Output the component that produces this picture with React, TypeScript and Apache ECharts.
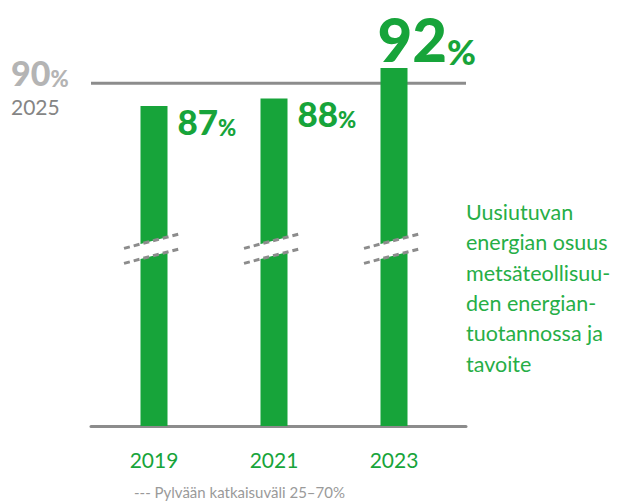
import React, { useEffect, useRef } from 'react';
import * as echarts from 'echarts';

const years = [2019, 2021, 2023];
const shares = [87, 88, 92];
const targetYear = '2025';
const targetShare = 90;
const breakStart = 25;
const breakEnd = 70;
const sideLines = ['Uusiutuvan', 'energian osuus', 'metsäteollisuu-', 'den energian-', 'tuotannossa ja', 'tavoite'];
const noteText = `--- Pylvään katkaisuväli ${breakStart}–${breakEnd}%`;

const X_MIN = 2017.95;
const X_MAX = 2024.2;

const GREEN = '#17a43a';
const SIDE_GREEN = '#26ae46';
const GREY = '#8c8c8c';
const FONT = 'Lato, "Noto Sans", sans-serif';

export default function App() {
  const ref = useRef<HTMLDivElement>(null);
  useEffect(() => {
    document.body.style.margin = '0';
    if (!ref.current) return;
    const chart = echarts.init(ref.current, null, { renderer: 'svg' });

    const smallLabel = {
      show: true,
      position: [37, -3],
      align: 'left',
      verticalAlign: 'top',
      formatter: (p: any) => `{n|${p.value[1]}}{p|%}`,
      rich: {
        n: { fontSize: 35, lineHeight: 35, fontWeight: 900, color: GREEN, fontFamily: FONT, verticalAlign: 'bottom' },
        p: { fontSize: 22, lineHeight: 27, fontWeight: 900, color: GREEN, fontFamily: FONT, verticalAlign: 'bottom' },
      },
    };
    const bigLabel = {
      show: true,
      position: [-3, -59],
      align: 'left',
      verticalAlign: 'top',
      formatter: (p: any) => `{n|${p.value[1]}}{p|%}`,
      rich: {
        n: { fontSize: 60, lineHeight: 60, fontWeight: 900, color: GREEN, fontFamily: FONT, verticalAlign: 'bottom' },
        p: { fontSize: 35, lineHeight: 45, fontWeight: 900, color: GREEN, fontFamily: FONT, verticalAlign: 'bottom' },
      },
    };

    const barData = years.map((y, i) => ({
      value: [y, shares[i]],
      label: i === years.length - 1 ? bigLabel : smallLabel,
    }));

    const option: any = {
      animation: false,
      backgroundColor: '#ffffff',
      title: [
        {
          text: `{n|${targetShare}}{p|%}\n{y|${targetYear}}`,
          left: 11,
          top: 55,
          padding: 0,
          textStyle: {
            rich: {
              n: { fontSize: 34, lineHeight: 34, fontWeight: 900, color: '#b4b4b4', fontFamily: FONT, verticalAlign: 'bottom' },
              p: { fontSize: 22, lineHeight: 27, fontWeight: 900, color: '#b4b4b4', fontFamily: FONT, verticalAlign: 'bottom' },
              y: { fontSize: 21, lineHeight: 34, fontWeight: 'normal', color: '#858585', fontFamily: FONT },
            },
          },
        },
        {
          text: sideLines.join('\n'),
          left: 466,
          top: 197,
          padding: 0,
          textStyle: { fontSize: 21.5, lineHeight: 30.3, fontWeight: 'normal', color: SIDE_GREEN, fontFamily: FONT },
        },
        {
          text: noteText,
          left: 134,
          top: 484,
          padding: 0,
          textStyle: { fontSize: 15, fontWeight: 'normal', color: '#9a9a9a', fontFamily: FONT },
        },
      ],
      grid: { left: 91, right: 159, top: 7, bottom: 75 },
      xAxis: {
        type: 'value',
        min: X_MIN,
        max: X_MAX,
        splitLine: { show: false },
        axisTick: { show: false },
        axisLine: { show: true, onZero: false, lineStyle: { color: GREY, width: 3 } },
        axisLabel: {
          customValues: years,
          formatter: (v: number) => String(v),
          color: GREEN,
          fontSize: 21,
          fontFamily: FONT,
          margin: 23,
        },
      },
      yAxis: {
        type: 'value',
        min: 0,
        max: 100,
        breaks: [{ start: breakStart, end: breakEnd, gap: 0 }],
        breakArea: { show: false },
        axisLine: { show: false },
        axisTick: { show: false },
        axisLabel: { show: false },
        splitLine: { show: false },
      },
      series: [
        {
          type: 'line',
          z: 1,
          symbol: 'none',
          silent: true,
          data: [[X_MIN, targetShare], [X_MAX, targetShare]],
          lineStyle: { color: GREY, width: 3 },
        },
        {
          type: 'bar',
          z: 2,
          barWidth: 27,
          itemStyle: { color: GREEN },
          data: barData,
        },
        {
          type: 'custom',
          z: 3,
          silent: true,
          data: years.map((y) => [y, breakStart]),
          renderItem: (params: any, api: any) => {
            const p = api.coord([api.value(0), api.value(1)]);
            const cx = p[0];
            const cy = p[1];
            const slope = -0.26;
            const mk = (dy: number) => {
              const x1 = cx - 30;
              const x2 = cx + 28;
              const ym = cy + dy;
              return [
                [x1, ym + (x1 - cx) * slope],
                [x2, ym + (x2 - cx) * slope],
              ];
            };
            const a = mk(5);
            const b = mk(20);
            const lineStyle = { stroke: GREY, lineWidth: 3, lineDash: [6, 4], fill: null };
            return {
              type: 'group',
              children: [
                { type: 'polygon', shape: { points: [a[0], a[1], b[1], b[0]] }, style: { fill: '#ffffff' } },
                { type: 'line', shape: { x1: a[0][0], y1: a[0][1], x2: a[1][0], y2: a[1][1] }, style: lineStyle },
                { type: 'line', shape: { x1: b[0][0], y1: b[0][1], x2: b[1][0], y2: b[1][1] }, style: lineStyle },
              ],
            };
          },
        },
      ],
    };
    chart.setOption(option);
    return () => chart.dispose();
  }, []);
  return <div ref={ref} style={{ width: 625, height: 501 }} />;
}
